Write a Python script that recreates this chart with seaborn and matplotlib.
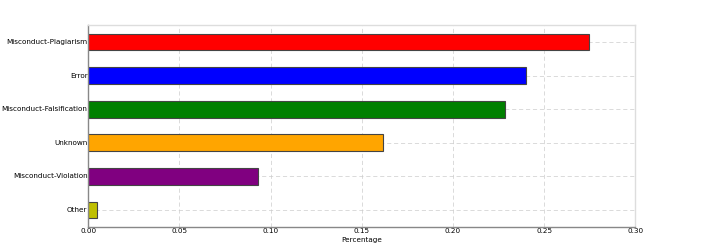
import matplotlib
matplotlib.use("Agg")
import matplotlib.pyplot as plt
import pandas as pd
import seaborn as sns

categories = ["Misconduct-Plagiarism", "Error", "Misconduct-Falsification",
              "Unknown", "Misconduct-Violation", "Other"]
percentages = [0.2747, 0.2400, 0.2286, 0.1615, 0.0929, 0.0050]
bar_colors = ["red", "blue", "green", "orange", "purple", "y"]

plt.style.use("classic")
df = pd.DataFrame({"Reason": categories, "Percentage": percentages})

fig = plt.figure(figsize=(7.06, 2.52), dpi=100)
ax = fig.add_subplot(111)
sns.barplot(data=df, y="Reason", x="Percentage", hue="Reason",
            palette=dict(zip(categories, bar_colors)), orient="h",
            width=0.5, edgecolor="#444444", linewidth=0.8, saturation=1,
            legend=False, ax=ax)

ax.set_xlim(0, 0.30)
ax.set_ylim(5.5, -0.5)
ax.set_xticks([0, 0.05, 0.10, 0.15, 0.20, 0.25, 0.30])
ax.set_xticklabels(["0.00", "0.05", "0.10", "0.15", "0.20", "0.25", "0.30"])
ax.set_ylabel("")
ax.set_xlabel("Percentage", fontsize=5.2, labelpad=2)
ax.tick_params(labelsize=5.2, length=0, pad=1)
ax.tick_params(axis="y", pad=0.5)
ax.grid(True, linestyle=(0, (3, 2)), color="#cccccc", linewidth=0.5)
ax.set_axisbelow(True)
for side, sp in ax.spines.items():
    sp.set_color("#888888" if side in ("left", "bottom") else "#dddddd")
    sp.set_linewidth(1.0)

fig.savefig("out.png", dpi=100)
